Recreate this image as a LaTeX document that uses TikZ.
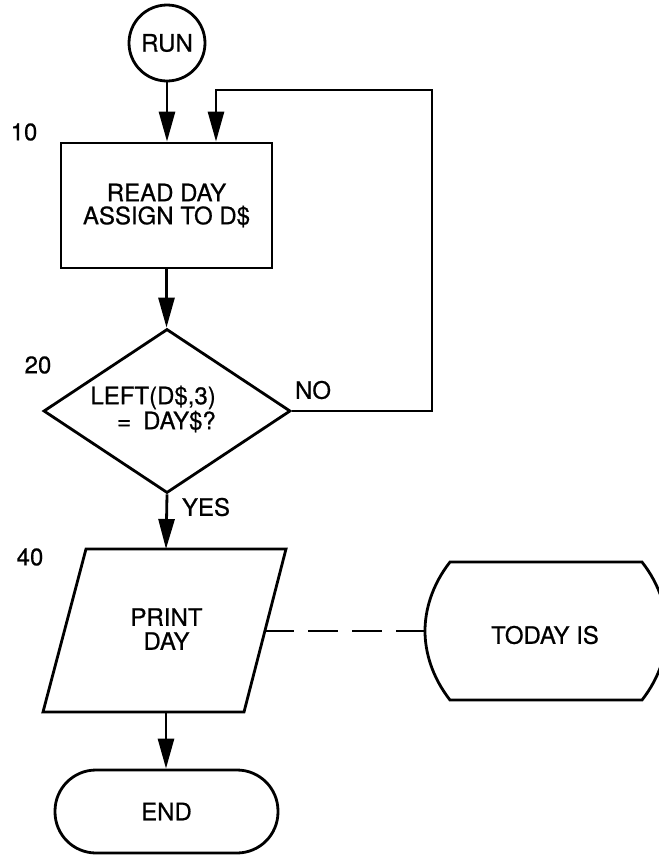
\documentclass[tikz,border=0pt]{standalone}
\usepackage{fontspec}
\setmainfont[FakeBold=0.6]{TeX Gyre Heros}
\usetikzlibrary{arrows.meta,shapes.geometric}
\begin{document}
\begin{tikzpicture}[x=1pt,y=-1pt,
  ln/.style={line width=2.8pt, line join=miter},
  arr/.style={ln, -{Triangle[length=30pt,width=16pt]}},
  txt/.style={font=\fontsize{24}{23}\selectfont, inner sep=0pt},
  procbox/.style={ln, draw, rectangle, minimum width=211pt, minimum height=125pt, align=center, txt},
  startc/.style={ln, draw, circle, minimum size=76pt, txt},
  decis/.style={ln, draw, diamond, minimum width=247pt, minimum height=164pt, inner sep=0pt},
  term/.style={ln, draw, rectangle, rounded corners=41pt, minimum width=223pt, minimum height=83pt, txt}
]
\useasboundingbox (0,0) rectangle (659,855);

% nodes
\node[startc] (run) at (167,43) {RUN};
\node[procbox] (box) at (166.5,205.5) {READ DAY\\ASSIGN TO D\$};
\node[decis] (dia) at (167,411) {};
\node[txt, font=\fontsize{24}{25}\selectfont, align=right, anchor=east] (diatext) at (216,409) {LEFT(D\$,3)\\=\enspace DAY\$?};
\node[term] (end) at (166.5,811.5) {END};

% parallelogram (output)
\coordinate (pTL) at (86,549);
\coordinate (pTR) at (286,549);
\coordinate (pBR) at (244,712);
\coordinate (pBL) at (43,712);
\coordinate (pTop) at (166,549);
\coordinate (pBot) at (166,712);
\coordinate (pR) at (264.4,631);
\draw[ln] (pTL) -- (pTR) -- (pBR) -- (pBL) -- cycle;
\node[txt, font=\fontsize{24}{24}\selectfont, align=center] (print) at (166.5,629) {PRINT\\DAY};

% display shape
\coordinate (dTL) at (450,562);
\coordinate (dTR) at (642,562);
\coordinate (dBR) at (642,700);
\coordinate (dBL) at (450,700);
\coordinate (dL) at (425,631);
\coordinate (dR) at (667,631);
\draw[ln] (dTL) -- (dTR) .. controls (660,585) and (667,610) .. (dR)
  .. controls (667,652) and (660,677) .. (dBR) -- (dBL)
  .. controls (432,677) and (425,652) .. (dL)
  .. controls (425,610) and (432,585) .. (dTL) -- cycle;
\node[txt] (today) at (545,635) {TODAY IS};

% labels
\node[txt] (l10) at (24,132) {10};
\node[txt] (l20) at (38,365) {20};
\node[txt] (l40) at (30,557) {40};
\node[txt] (no) at (313,390) {NO};
\node[txt] (yes) at (206,507) {YES};

% connectors
\coordinate (loopR) at (432,90);
\coordinate (loopL) at (216,90);
\draw[arr] (run.south) -- (run.south |- box.north);
\draw[arr] (dia.east) -| (loopR) -- (loopL) -- (loopL |- box.north);
\draw[arr] (box.south) -- (box.south |- dia.north);
\draw[arr] (dia.south) -- (pTop);
\draw[arr] (pBot) -- (pBot |- end.north);
\draw[ln, dash pattern=on 30pt off 14pt] (pR) -- (dL);
\end{tikzpicture}
\end{document}
